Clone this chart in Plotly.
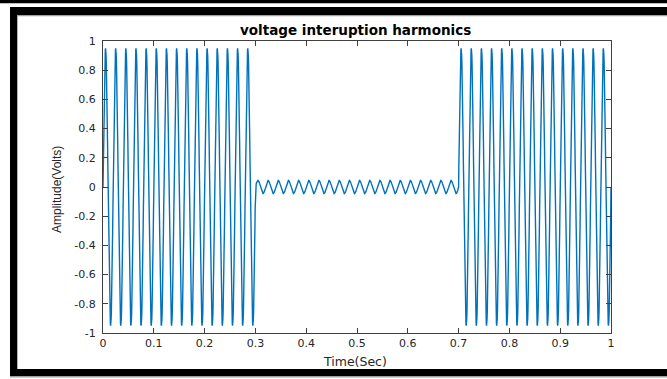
import numpy as np
import plotly.graph_objects as go

# ---- data ----
title_text = "voltage interuption harmonics"
x_label = "Time(Sec)"
y_label = "Amplitude(Volts)"
x_tick_vals = [0, 0.1, 0.2, 0.3, 0.4, 0.5, 0.6, 0.7, 0.8, 0.9, 1]
x_tick_text = ["0", "0.1", "0.2", "0.3", "0.4", "0.5", "0.6", "0.7", "0.8", "0.9", "1"]
y_tick_vals = [-1, -0.8, -0.6, -0.4, -0.2, 0, 0.2, 0.4, 0.6, 0.8, 1]
y_tick_text = ["-1", "-0.8", "-0.6", "-0.4", "-0.2", "0", "0.2", "0.4", "0.6", "0.8", "1"]

# signal segments: (start s, end s, amplitude V) -- 50 Hz sine
signal_freq_hz = 50
segment_start = [0.0, 0.3, 0.7]
segment_end = [0.3, 0.7, 1.0]
segment_amp = [0.95, 0.045, 0.95]
sample_rate = 2000

t = np.arange(0, 1 + 1e-9, 1.0 / sample_rate)
amp = np.zeros_like(t)
for s, e, a in zip(segment_start, segment_end, segment_amp):
    amp[(t >= s) & (t <= e)] = a
v = amp * np.sin(2 * np.pi * signal_freq_hz * t)

# ---- layout geometry (pixels) ----
W, H = 667, 379
L, R, T, B = 103, 611, 41, 333


def px(x):
    return (x - L) / (R - L)


def py(y):
    return (B - y) / (B - T)


fig = go.Figure()
fig.add_trace(go.Scatter(x=t, y=v, mode="lines",
                         line=dict(color="#0072BD", width=1.4),
                         showlegend=False, hoverinfo="skip"))

axis_common = dict(showgrid=False, zeroline=False, showline=True,
                   linecolor="#404040", linewidth=1, mirror="ticks",
                   ticks="inside", ticklen=5, tickcolor="#404040",
                   tickfont=dict(family="DejaVu Sans", size=11, color="#262626"))

fig.update_xaxes(range=[0, 1], tickvals=x_tick_vals, ticktext=x_tick_text, **axis_common)
fig.update_yaxes(range=[-1, 1], tickvals=y_tick_vals, ticktext=y_tick_text,
                 ticklabelstandoff=4, **axis_common)

frame = [
    (0, 0, W, 3.3, "black"),
    (10, 7, W, 15, "black"),
    (10, 7, 17.3, 376, "black"),
    (10, 369, W, 376, "black"),
    (17.3, 15, W, 16.2, "#a0a0a0"),
    (10, 376, W, 377.5, "#a0a0a0"),
]
shapes = []
for x0, y0, x1, y1, c in frame:
    shapes.append(dict(type="rect", xref="paper", yref="paper",
                       x0=px(x0), x1=px(x1), y0=py(y1), y1=py(y0),
                       fillcolor=c, line=dict(width=0), layer="above"))

annotations = [
    dict(text="<b>" + title_text + "</b>", x=px(355), y=py(30), xref="paper", yref="paper",
         showarrow=False, xanchor="center", yanchor="middle",
         font=dict(family="DejaVu Sans", size=13.5, color="black")),
    dict(text=x_label, x=px(355), y=py(361), xref="paper", yref="paper",
         showarrow=False, xanchor="center", yanchor="middle",
         font=dict(family="DejaVu Sans", size=12.5, color="#262626")),
    dict(text=y_label, x=px(57), y=py(190), xref="paper", yref="paper",
         showarrow=False, xanchor="center", yanchor="middle", textangle=-90,
         font=dict(family="Liberation Sans", size=12, color="#262626")),
]

fig.update_layout(width=W, height=H,
                  margin=dict(l=L, r=W - R, t=T, b=H - B, pad=0),
                  paper_bgcolor="white", plot_bgcolor="white",
                  shapes=shapes, annotations=annotations)

fig.write_html("out.html", config={"displayModeBar": False},
               post_script="document.body.style.margin='0';document.body.style.overflow='hidden';")
